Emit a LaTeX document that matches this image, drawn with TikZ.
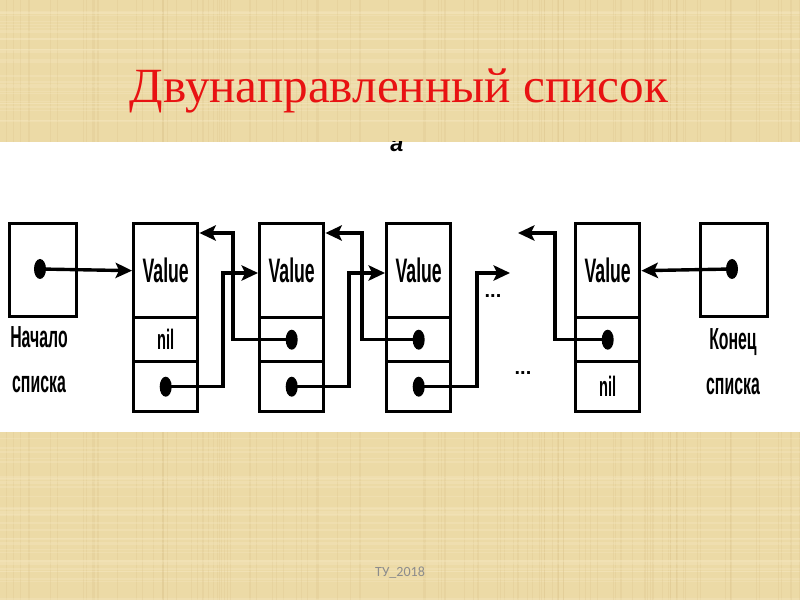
\documentclass[tikz,border=0pt]{standalone}
\usepackage{fontspec}
\setmainfont{Liberation Serif}
\newfontfamily\narrowfont[FakeStretch=0.52]{Liberation Sans}
\newfontfamily\letterfont{Liberation Sans}
\newfontfamily\footfont{Carlito}
\usetikzlibrary{arrows.meta,shapes.geometric}

\begin{document}
\begin{tikzpicture}[x=0.03cm,y=-0.03cm,line width=2.9pt,
    cell/.style={draw,rectangle,inner sep=0pt,anchor=north west,minimum width=1.92cm},
    valcell/.style={cell,minimum height=2.82cm,font=\narrowfont\bfseries\fontsize{29}{30}\selectfont},
    prevcell/.style={cell,minimum height=1.32cm},
    nextcell/.style={cell,minimum height=1.5cm},
    endbox/.style={cell,minimum width=2.01cm,minimum height=2.79cm},
    dot/.style={ellipse,fill=black,inner sep=0pt,minimum width=0.36cm,minimum height=0.6cm},
    niltext/.style={font=\narrowfont\bfseries\fontsize{24}{25}\selectfont},
    endlabel/.style={align=center,anchor=base,font=\narrowfont\bfseries\fontsize{26}{39}\selectfont},
    dots/.style={font=\letterfont\bfseries\fontsize{17}{18}\selectfont},
    arr/.style={-{Stealth[length=14pt,width=13pt,inset=3pt]},line width=2.9pt}]
  \definecolor{paper}{HTML}{ECDAA6}
  \definecolor{paperdark}{HTML}{D9C08A}
  \definecolor{paperlight}{HTML}{F5E8C0}
  \definecolor{titlered}{HTML}{E81212}
  \useasboundingbox (0,0) rectangle (800,600);
  \fill[paper] (0,0) rectangle (800,600);
  \pgfmathsetseed{17}
  \foreach \i in {1,...,110} {
    \pgfmathsetmacro{\xx}{rnd*800}
    \pgfmathsetmacro{\yy}{rnd*600}
    \draw[paperdark,line width=0.9pt,opacity=0.25] (\xx,0) -- (\xx,600);
    \draw[paperlight,line width=1.2pt,opacity=0.35] (0,\yy) -- (800,\yy);
  }
  \fill[white] (0,142) rectangle (800,432);
  \begin{scope}
    \clip (0,142) rectangle (800,432);
    \node[anchor=base,font=\letterfont\bfseries\itshape\fontsize{20}{20}\selectfont] (figletter) at (397,152) {a};
  \end{scope}

  \node[anchor=base,font=\fontsize{42}{44}\selectfont,text=titlered] (title) at (399,103) {Двунаправленный список};

  % list cells
  \node[endbox] (head) at (8,222) {};
  \node[endbox] (tail) at (699,222) {};
  \foreach \k/\xl in {1/132,2/258,3/385,4/574} {
    \node[valcell] (v\k) at (\xl,222) {Value};
    \node[prevcell] (p\k) at (\xl,316) {};
    \node[nextcell] (n\k) at (\xl,360) {};
  }
  \node[niltext] (nil1) at (p1) {nil};
  \node[niltext] (nil4) at (n4) {nil};
  \foreach \c in {n1,n2,n3,p2,p3,p4} {
    \node[dot] (\c-dot) at (\c) {};
  }
  \node[dot] (head-dot) at (40,269) {};
  \node[dot] (tail-dot) at (732,269) {};

  \node[endlabel] (headlab) at (39,393) {Начало\\списка};
  \node[endlabel] (taillab) at (733,395) {Конец\\списка};
  \node[dots] (gap1) at (493,296) {...};
  \node[dots] (gap2) at (523,373) {...};

  \coordinate (f1) at (223,273);
  \coordinate (f2) at (349,273);
  \coordinate (f3) at (477,273);
  \coordinate (fend) at (510,273);
  \coordinate (b1) at (233,233);
  \coordinate (b2) at (362,233);
  \coordinate (b3) at (555,233);
  \coordinate (bend) at (518,233);

  \draw[arr] (head-dot.center) -- (v1.west);
  \draw[arr] (tail-dot.center) -- (v4.east);
  \draw[arr] (n1-dot.center) -| (f1) -- (f1 -| v2.west);
  \draw[arr] (n2-dot.center) -| (f2) -- (f2 -| v3.west);
  \draw[arr] (n3-dot.center) -| (f3) -- (fend);
  \draw[arr] (p2-dot.center) -| (b1) -- (b1 -| v1.east);
  \draw[arr] (p3-dot.center) -| (b2) -- (b2 -| v2.east);
  \draw[arr] (p4-dot.center) -| (b3) -- (bend);

  \node[anchor=base,font=\footfont\fontsize{12}{13}\selectfont,text=black!45] (footer) at (400,577) {ТУ\_2018};
\end{tikzpicture}
\end{document}
